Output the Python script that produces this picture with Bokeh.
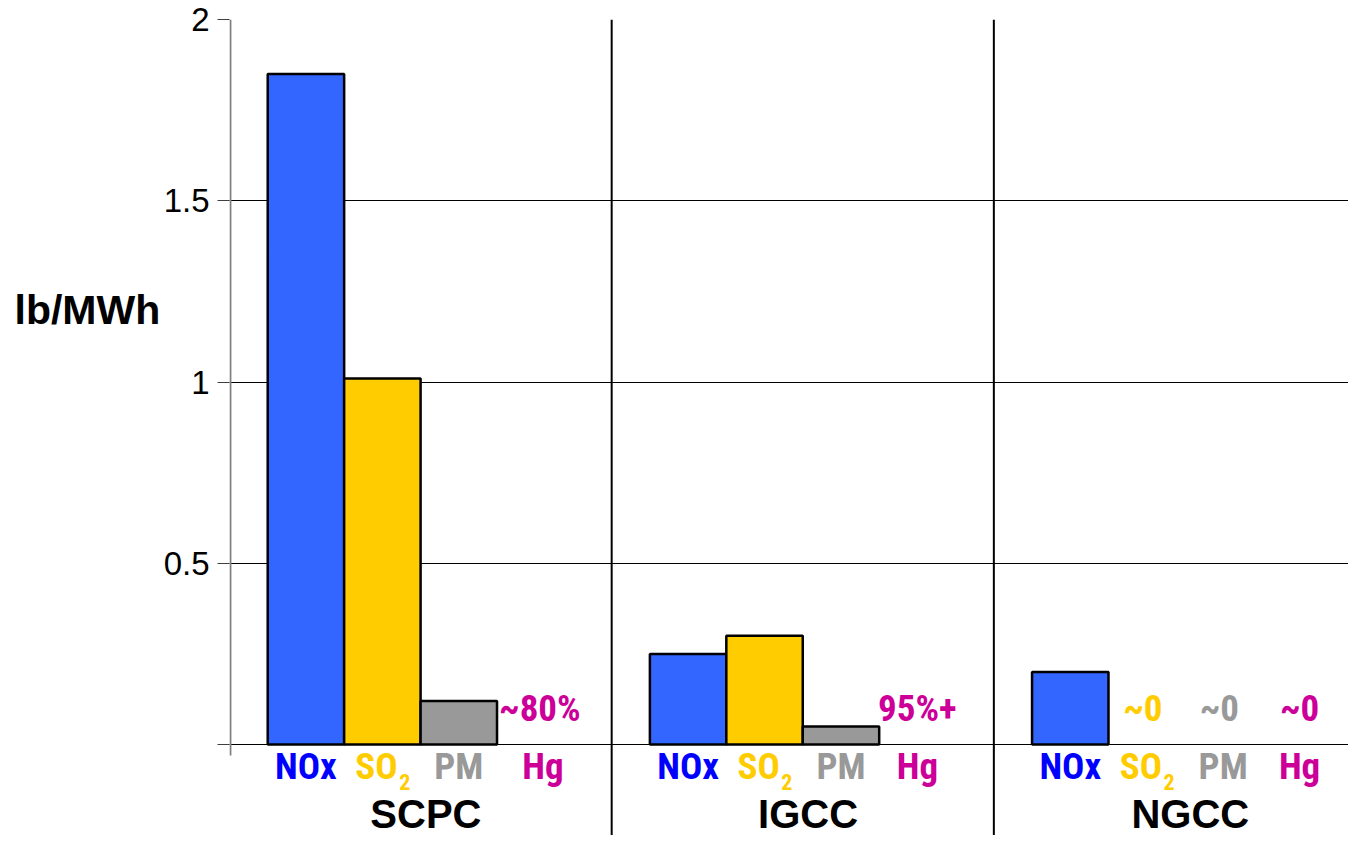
from bokeh.plotting import figure
from bokeh.layouts import row
from bokeh.models import Range1d, FixedTicker
from bokeh.core.properties import value
from bokeh.embed import file_html
from bokeh.resources import INLINE

# ---- data ----
plants = ["SCPC", "IGCC", "NGCC"]
pollutants = ["NOx", "SO2", "PM", "Hg"]
nox = [1.85, 0.25, 0.20]
so2 = [1.01, 0.30, None]
pm = [0.12, 0.05, None]
hg_notes = ["~80%", "95%+", "~0"]
zero_note = "~0"
y_ticks = [0, 0.5, 1, 1.5, 2]
y_tick_labels = ["", "0.5", "1", "1.5", "2"]
y_label = "lb/MWh"

# ---- style ----
bar_colors = ["#3366FF", "#FFCC00", "#999999"]
text_colors = ["#0000FF", "#FFCC00", "#999999", "#CC0099"]
NARROW = value("'Liberation Sans Narrow', 'Arial Narrow', 'Roboto Condensed', 'DejaVu Sans Condensed', sans-serif")
SANS = "Liberation Sans"
GROUP = 5  # slots per plant group (0.5 pad + 4 slots + 0.5 pad)

yr = Range1d(-0.251, 2)

p = figure(width=1188, height=835,
           x_range=Range1d(0, 14.64), y_range=yr,
           output_backend="svg", toolbar_location=None,
           x_axis_location=None,
           min_border_left=68, min_border_right=0,
           min_border_top=19, min_border_bottom=0)
p.outline_line_color = None
p.background_fill_color = "white"
p.border_fill_color = "white"

# grid
p.xgrid.visible = False
p.ygrid.ticker = FixedTicker(ticks=y_ticks)
p.ygrid.grid_line_color = "black"
p.ygrid.grid_line_width = 1

# y axis
ax = p.yaxis[0]
ax.ticker = FixedTicker(ticks=y_ticks)
ax.major_label_overrides = {float(t): l for t, l in zip(y_ticks, y_tick_labels)}
ax.major_label_text_font = SANS
ax.major_label_text_font_size = "33px"
ax.major_label_text_color = "black"
ax.major_label_standoff = 8
ax.major_tick_out = 12
ax.major_tick_in = 0
ax.major_tick_line_color = "#404040"
ax.minor_tick_line_color = None
ax.axis_line_color = None

# y axis line (stops just below zero)
p.segment(x0=[0.012], y0=[-0.03], x1=[0.012], y1=[2],
          line_color="#808080", line_width=2)

# group separators
seps = [GROUP * g for g in range(1, len(plants))]
p.segment(x0=seps, y0=[-0.3] * len(seps), x1=seps, y1=[2] * len(seps),
          line_color="black", line_width=2)

# bars
series = [nox, so2, pm]
bx, btop, bcol = [], [], []
for i, vals in enumerate(series):
    for g, v in enumerate(vals):
        if v is not None:
            bx.append(g * GROUP + 1 + i)
            btop.append(v)
            bcol.append(bar_colors[i])
p.vbar(x=bx, top=btop, width=1, bottom=0, fill_color=bcol,
       line_color="black", line_width=2.5)

# notes above baseline (Hg capture and ~0 values)
nx, nt, nc = [], [], []
for i, vals in enumerate(series):
    for g, v in enumerate(vals):
        if v is None:
            nx.append(g * GROUP + 1 + i - 0.05)
            nt.append(zero_note)
            nc.append(text_colors[i])
for g, note in enumerate(hg_notes):
    nx.append(g * GROUP + 4 + (0.06 if g == 0 else 0))
    nt.append(note)
    nc.append(text_colors[3])
p.text(x=nx, y=[0.1] * len(nx), text=nt, text_color=nc,
       text_font=NARROW, text_font_style="bold", text_font_size="37px",
       text_align="center", text_baseline="middle")

# pollutant labels under the bars
lx, lt, lc = [], [], []
sx, sc = [], []
for g in range(len(plants)):
    for i, name in enumerate(pollutants):
        cx = g * GROUP + 1 + i
        if name == "SO2":
            sx.append(cx)
            sc.append(text_colors[i])
        else:
            lx.append(cx + (0.1 if (name == "Hg" and g == 0) else 0))
            lt.append(name)
            lc.append(text_colors[i])
LAB_Y = -0.062
p.text(x=lx, y=[LAB_Y] * len(lx), text=lt, text_color=lc,
       text_font=NARROW, text_font_style="bold", text_font_size="37px",
       text_align="center", text_baseline="middle")
p.text(x=[x + 0.2 for x in sx], y=[LAB_Y] * len(sx), text=["SO"] * len(sx),
       text_color=sc, text_font=NARROW, text_font_style="bold",
       text_font_size="37px", text_align="right", text_baseline="middle")
p.text(x=[x + 0.22 for x in sx], y=[-0.104] * len(sx), text=["2"] * len(sx),
       text_color=sc, text_font=NARROW, text_font_style="bold",
       text_font_size="22px", text_align="left", text_baseline="middle")

# plant labels
p.text(x=[g * GROUP + 2.57 for g in range(len(plants))], y=[-0.193] * len(plants),
       text=plants, text_color="black", text_font=value(SANS),
       text_font_style="bold", text_font_size="40px",
       text_align="center", text_baseline="middle")

# left panel holding the horizontal y-axis title
lp = figure(width=160, height=835, x_range=Range1d(0, 160), y_range=yr,
            output_backend="svg", toolbar_location=None,
            x_axis_location=None, y_axis_location=None,
            min_border_left=0, min_border_right=0,
            min_border_top=19, min_border_bottom=0)
lp.outline_line_color = None
lp.grid.visible = False
lp.text(x=[14], y=[1.2], text=[y_label], text_color="black",
        text_font=value(SANS), text_font_style="bold", text_font_size="41px",
        text_align="left", text_baseline="middle")

layout = row(lp, p, spacing=0)
open("out.html", "w").write(file_html(layout, INLINE))
